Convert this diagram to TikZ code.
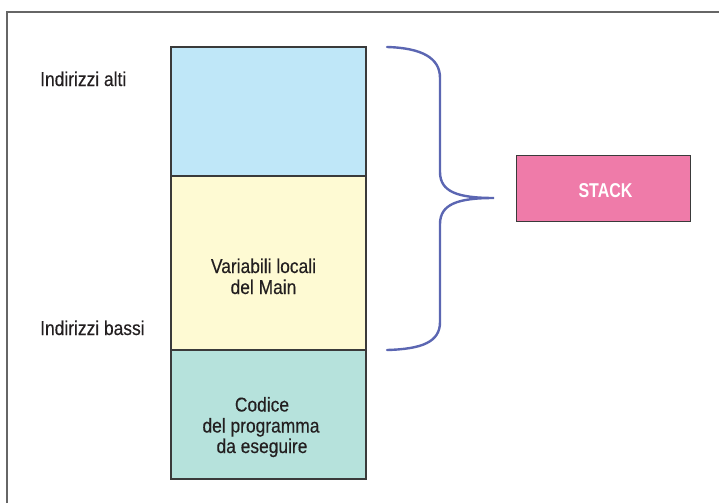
\documentclass[tikz,border=0pt]{standalone}
\usepackage{fontspec}
\setmainfont[FakeStretch=0.87,FakeBold=0.3]{Liberation Sans}
\newfontfamily\stackfont[FakeStretch=0.8]{Liberation Sans Bold}
\definecolor{framegray}{HTML}{666666}
\definecolor{edgegray}{HTML}{3A3A3A}
\definecolor{highblue}{HTML}{BFE7F8}
\definecolor{localyellow}{HTML}{FEFAD3}
\definecolor{codegreen}{HTML}{B6E2DC}
\definecolor{stackpink}{HTML}{EF7BA9}
\definecolor{bracecol}{HTML}{5B66B2}
\definecolor{inkdark}{HTML}{231F20}
\tikzset{
  segment/.style={draw=edgegray, line width=1.3pt},
  label/.style={text=inkdark, font=\fontsize{20}{20}\selectfont, inner sep=0pt, anchor=base}
}
\begin{document}
\begin{tikzpicture}[x=1pt, y=-1pt]
  \useasboundingbox (0,0) rectangle (719,503);
  % open frame: left and top edges
  \draw[framegray, line width=1.6pt] (7,503) -- (7,12) -- (719,12);

  % memory column
  \path[segment, fill=highblue]    (171,47)  rectangle (366,176);
  \path[segment, fill=localyellow] (171,176) rectangle (366,350);
  \path[segment, fill=codegreen]   (171,350) rectangle (366,479);

  % texts
  \node[label, anchor=base west] (alti)  at (40,86)  {Indirizzi alti};
  \node[label, anchor=base west] (bassi) at (40,335) {Indirizzi bassi};
  \node[label] (var1) at (263.5,273) {Variabili locali};
  \node[label] (var2) at (263.5,294) {del Main};
  \node[label] (cod1) at (262,411.5) {Codice};
  \node[label] (cod2) at (261,432.5) {del programma};
  \node[label] (cod3) at (262,453) {da eseguire};

  % STACK box
  \node[draw=edgegray, line width=1.2pt, fill=stackpink, minimum width=174pt,
        minimum height=66pt, inner sep=0pt, anchor=north west] (stack) at (516,155) {};
  \node[text=white, font=\stackfont\fontsize{20}{20}\selectfont, inner sep=0pt, anchor=base]
        (stacklbl) at (605.5,197) {STACK};

  % curly brace pointing at the STACK box
  \coordinate (bTop) at (387,47);
  \coordinate (bTip) at (494,198);
  \coordinate (bBot) at (387,350);
  \draw[bracecol, line width=2.4pt, line cap=round]
    (bTop) .. controls (422,48) and (440,58) .. (440,78)
    -- (440,172) .. controls (440,192) and (458,198) .. (bTip)
    .. controls (458,198) and (440,204) .. (440,224)
    -- (440,322) .. controls (440,342) and (422,349) .. (bBot);
\end{tikzpicture}
\end{document}
